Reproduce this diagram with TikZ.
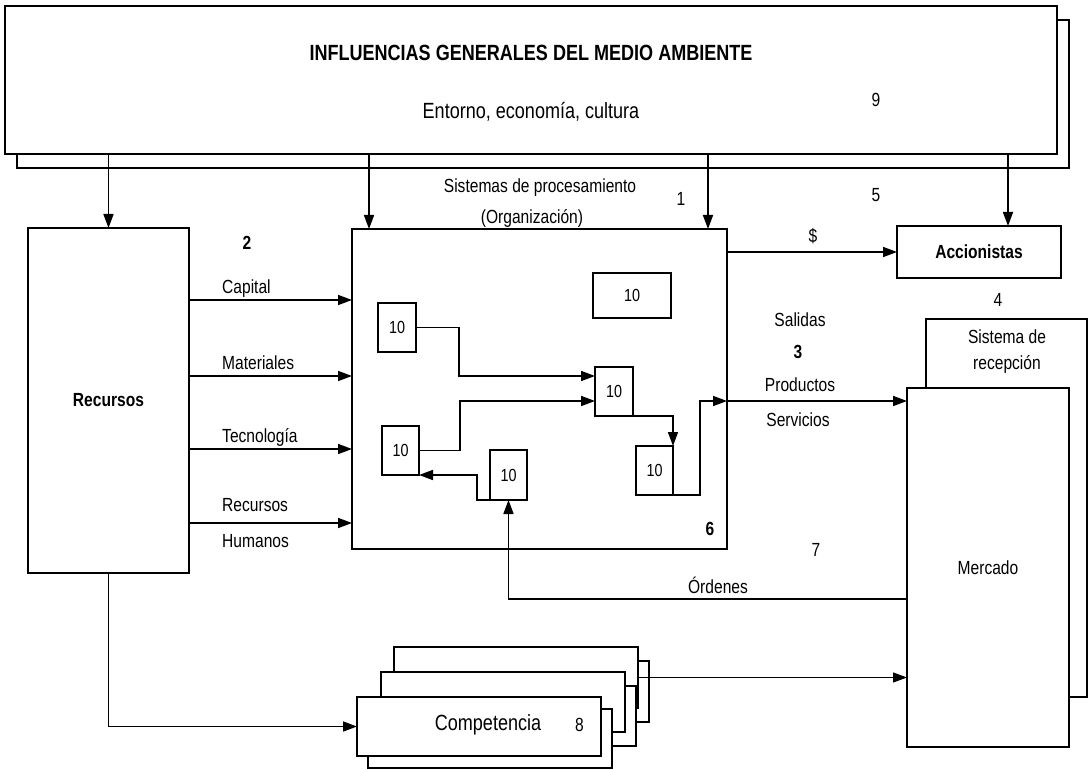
\documentclass[tikz,border=0pt]{standalone}
\usepackage{fontspec}
\setmainfont{Liberation Sans}[FakeStretch=0.82]
\usetikzlibrary{arrows.meta,shadows}
\begin{document}
\begin{tikzpicture}[x=1pt,y=-1pt,
  box/.style={draw, line width=2pt, fill=white, inner sep=0pt, outer sep=0pt},
  ibox/.style={draw, line width=1.6pt, fill=white, inner sep=0pt, outer sep=0pt, font=\fontsize{17.5}{20}\selectfont},
  arr/.style={line width=1.7pt, -{Triangle[length=14pt,width=10pt]}},
  lab/.style={font=\fontsize{19}{22}\selectfont, inner sep=0pt},
  blab/.style={font=\bfseries\fontsize{19}{22}\selectfont, inner sep=0pt},
  sh/.style={general shadow={shadow xshift=11pt, shadow yshift=-14pt, fill=white, draw=black, line width=2pt}},
  shf/.style={general shadow={shadow xshift=11pt, shadow yshift=-12pt, fill=white, draw=black, line width=2pt}},
]
\useasboundingbox (0,0) rectangle (1088,770);

% top environment box
\node[box, line width=2.8pt, general shadow={shadow xshift=12pt, shadow yshift=-14pt, fill=white, draw=black, line width=2.6pt},
      minimum width=1052pt, minimum height=148pt] (top) at (531,80) {};
\node[font=\bfseries\fontsize{22}{26}\selectfont, inner sep=0pt] (t1) at (531,53) {INFLUENCIAS GENERALES DEL MEDIO AMBIENTE};
\node[font=\fontsize{22}{26}\selectfont, inner sep=0pt] (t2) at (531,112) {Entorno, economía, cultura};
\node[lab] (n9) at (876,100) {9};

% main boxes
\node[box, font=\bfseries\fontsize{19}{22}\selectfont, minimum width=161pt, minimum height=345pt] (rec) at (108.5,400.5) {Recursos};
\node[box, minimum width=375pt, minimum height=320pt] (org) at (539.5,389) {};
\node[box, font=\bfseries\fontsize{19}{22}\selectfont, minimum width=164pt, minimum height=52pt] (acc) at (979,252) {Accionistas};
\node[box, minimum width=161pt, minimum height=378pt] (sis) at (1006.5,508) {};
\node[font=\fontsize{19}{26}\selectfont, inner sep=0pt, align=center] (sisl) at (1007,352) {Sistema de\\recepción};
\node[box, font=\fontsize{19}{22}\selectfont, minimum width=162pt, minimum height=359pt] (mer) at (988,567.5) {Mercado};

% inner boxes
\node[ibox, minimum width=38pt, minimum height=49pt] (A) at (397,327.5) {10};
\node[ibox, minimum width=78pt, minimum height=45pt] (T) at (632,295.5) {10};
\node[ibox, minimum width=38pt, minimum height=49pt] (B) at (614,391.5) {10};
\node[ibox, minimum width=37pt, minimum height=49pt] (C) at (400.5,450.5) {10};
\node[ibox, minimum width=37pt, minimum height=50pt] (D) at (508.5,475) {10};
\node[ibox, minimum width=37pt, minimum height=49pt] (E) at (654.5,470.5) {10};

% competencia stack
\node[box, sh, minimum width=244pt, minimum height=61pt] (bk) at (516,677.5) {};
\node[box, sh, minimum width=244pt, minimum height=60pt] (md) at (503,702) {};
\node[box, shf, minimum width=244pt, minimum height=59pt] (fr) at (479,726.5) {};
\node[font=\fontsize{22}{26}\selectfont, inner sep=0pt] (comp) at (488,725) {Competencia};
\node[lab] (n8) at (579.5,725) {8};

% labels
\node[lab] (sp1) at (540,188) {Sistemas de procesamiento};
\node[lab] (sp2) at (532,218) {(Organización)};
\node[lab] (n1) at (681,199) {1};
\node[lab] (n5) at (876,195) {5};
\node[blab] (n2) at (247,243) {2};
\node[lab, anchor=west] (lcap) at (222,289) {Capital};
\node[lab, anchor=west] (lmat) at (222,363) {Materiales};
\node[lab, anchor=west] (ltec) at (222,437) {Tecnología};
\node[lab, anchor=west] (lrh1) at (222,505) {Recursos};
\node[lab, anchor=west] (lrh2) at (222,541) {Humanos};
\node[lab] (ldol) at (813,236) {\$};
\node[lab] (n4) at (998,300) {4};
\node[lab] (lsal) at (800,320) {Salidas};
\node[blab] (n3) at (798,352) {3};
\node[lab] (lprod) at (800,385) {Productos};
\node[lab] (lserv) at (798,420) {Servicios};
\node[blab] (n6) at (710,529) {6};
\node[lab] (n7) at (816,550) {7};
\node[lab] (lord) at (718,585) {Órdenes};

% coordinates on borders
\coordinate (o1) at ([xshift=17pt]org.north west);
\coordinate (o2) at ([xshift=-19pt]org.north east);
\coordinate (a1) at ([xshift=29pt]acc.north);
\coordinate (in1) at ([yshift=89pt]org.west);
\coordinate (in2) at ([yshift=13pt]org.west);
\coordinate (in3) at ([yshift=-60pt]org.west);
\coordinate (in4) at ([yshift=-134pt]org.west);
\coordinate (pout) at ([yshift=-12pt]org.east);
\coordinate (ord) at ([yshift=-31.5pt]mer.west);

% environment arrows
\draw[arr] (top.south -| rec.north) -- (rec.north);
\draw[arr] (o1 |- top.south) -- (o1);
\draw[arr] (o2 |- top.south) -- (o2);
\draw[arr] (a1 |- top.south) -- (a1);

% resources
\draw[arr] (rec.east |- in1) -- (in1);
\draw[arr] (rec.east |- in2) -- (in2);
\draw[arr] (rec.east |- in3) -- (in3);
\draw[arr] (rec.east |- in4) -- (in4);

% outputs
\draw[arr] (org.east |- acc.west) -- (acc.west);
\draw[arr] (pout) -- (pout -| mer.west);
\draw[arr] (ord) -| (D.south);
\draw[arr] (rec.south) |- (fr.west);
\draw[arr, line width=1.2pt] (bk.east) -- (bk.east -| mer.west);

% inner flows
\draw[arr] (A.east) -- ++(43,0) |- ([yshift=15.5pt]B.west);
\draw[arr] (C.east) -- ++(41,0) |- ([yshift=-9.5pt]B.west);
\draw[arr] (B.south east) -| (E.north east);
\draw[arr] (E.south east) -- ++(27,0) |- (pout);
\draw[arr] (D.south west) -- ++(-13,0) |- (C.south east);
\end{tikzpicture}
\end{document}
